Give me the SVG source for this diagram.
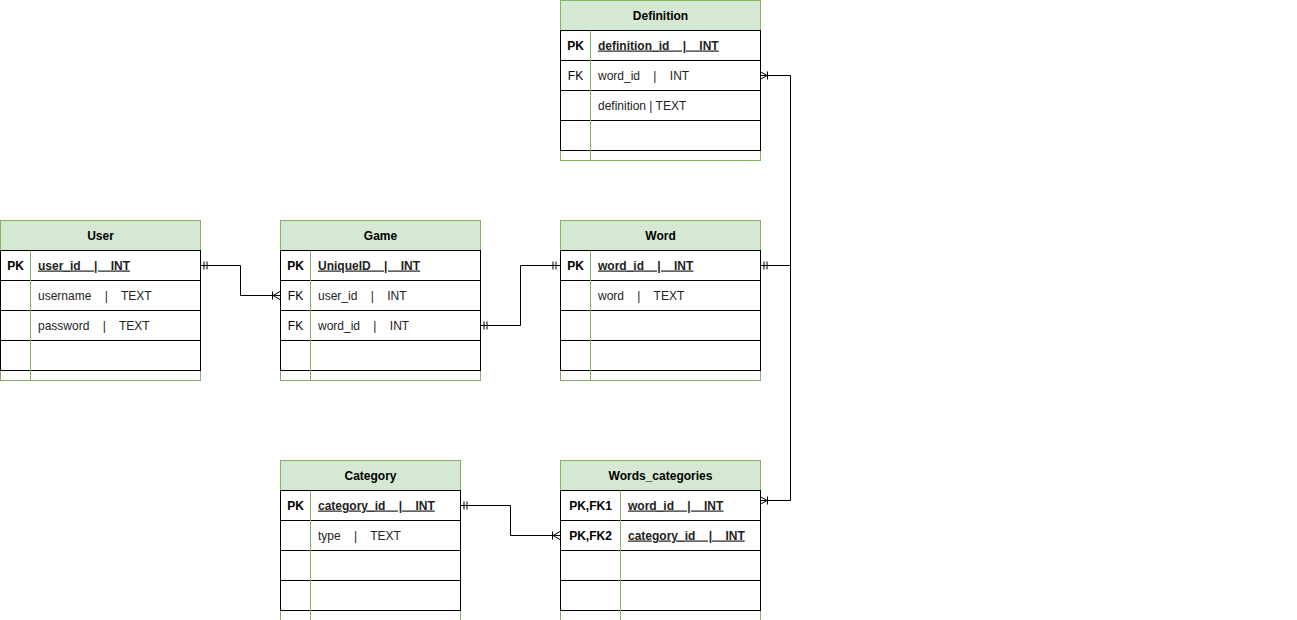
<svg xmlns="http://www.w3.org/2000/svg" width="1297" height="620" viewBox="0 0 1297 620">
<style>
.bg{fill:#ffffff;stroke:#82b366;stroke-width:1}
.hd{fill:#d5e8d4;stroke:#82b366;stroke-width:1}
.row{fill:none;stroke:#000000;stroke-width:1}
.div{stroke:#82b366;stroke-width:1}
text{font-family:"Liberation Sans",Arial,sans-serif;font-size:12px;fill:#000000;white-space:pre}
.h{font-weight:bold;text-anchor:middle}
.k{text-anchor:middle}
.kb{font-weight:bold;text-anchor:middle}
.f{fill:#222222}
.pk{font-weight:bold;text-decoration:underline;fill:#222222}
.c{fill:none;stroke:#000000;stroke-width:1}
</style>
<defs>
<marker id="one" markerUnits="userSpaceOnUse" orient="auto-start-reverse" refX="0" refY="0" markerWidth="20" markerHeight="20" viewBox="-10 -10 20 20" overflow="visible">
<path d="M-4,-4V4M-7,-4V4" fill="none" stroke="#000" stroke-width="1"/>
</marker>
<marker id="many" markerUnits="userSpaceOnUse" orient="auto-start-reverse" refX="0" refY="0" markerWidth="20" markerHeight="20" viewBox="-10 -10 20 20" overflow="visible">
<path d="M0,-4L-7,0L0,4M-7.5,-4V4" fill="none" stroke="#000" stroke-width="1"/>
</marker>
</defs>

<g id="connectors">
<path class="c" d="M200,265.5H240.5V295.5H280" marker-start="url(#one)" marker-end="url(#many)"/>
<path class="c" d="M480,325.5H520.5V265.5H560" marker-start="url(#one)" marker-end="url(#one)"/>
<path class="c" d="M760,265.5H790.5V75.5H760" marker-start="url(#one)" marker-end="url(#many)"/>
<path class="c" d="M760,265.5H790.5V500.5H760" marker-end="url(#many)"/>
<path class="c" d="M460,505.5H510.5V535.5H560" marker-start="url(#one)" marker-end="url(#many)"/>
</g>

<g id="user">
<rect class="bg" x="0.5" y="220.5" width="200" height="160"/>
<rect class="hd" x="0.5" y="220.5" width="200" height="30"/>
<rect class="row" x="0.5" y="250.5" width="200" height="30"/>
<rect class="row" x="0.5" y="280.5" width="200" height="30"/>
<rect class="row" x="0.5" y="310.5" width="200" height="30"/>
<rect class="row" x="0.5" y="340.5" width="200" height="30"/>
<line class="div" x1="30.5" y1="250.5" x2="30.5" y2="380.5"/>
<text class="h" x="100.5" y="239.5">User</text>
<text class="kb" x="15.5" y="269.5">PK</text>
<text class="pk" x="38" y="269.5">user_id    |    INT</text>
<text class="f" x="38" y="299.5">username    |    TEXT</text>
<text class="f" x="38" y="329.5">password    |    TEXT</text>
</g>

<g id="game">
<rect class="bg" x="280.5" y="220.5" width="200" height="160"/>
<rect class="hd" x="280.5" y="220.5" width="200" height="30"/>
<rect class="row" x="280.5" y="250.5" width="200" height="30"/>
<rect class="row" x="280.5" y="280.5" width="200" height="30"/>
<rect class="row" x="280.5" y="310.5" width="200" height="30"/>
<rect class="row" x="280.5" y="340.5" width="200" height="30"/>
<line class="div" x1="310.5" y1="250.5" x2="310.5" y2="380.5"/>
<text class="h" x="380.5" y="239.5">Game</text>
<text class="kb" x="295.5" y="269.5">PK</text>
<text class="pk" x="318" y="269.5">UniqueID    |    INT</text>
<text class="k" x="295.5" y="299.5">FK</text>
<text class="f" x="318" y="299.5">user_id    |    INT</text>
<text class="k" x="295.5" y="329.5">FK</text>
<text class="f" x="318" y="329.5">word_id    |    INT</text>
</g>

<g id="word">
<rect class="bg" x="560.5" y="220.5" width="200" height="160"/>
<rect class="hd" x="560.5" y="220.5" width="200" height="30"/>
<rect class="row" x="560.5" y="250.5" width="200" height="30"/>
<rect class="row" x="560.5" y="280.5" width="200" height="30"/>
<rect class="row" x="560.5" y="310.5" width="200" height="30"/>
<rect class="row" x="560.5" y="340.5" width="200" height="30"/>
<line class="div" x1="590.5" y1="250.5" x2="590.5" y2="380.5"/>
<text class="h" x="660.5" y="239.5">Word</text>
<text class="kb" x="575.5" y="269.5">PK</text>
<text class="pk" x="598" y="269.5">word_id    |    INT</text>
<text class="f" x="598" y="299.5">word    |    TEXT</text>
</g>

<g id="definition">
<rect class="bg" x="560.5" y="0.5" width="200" height="160"/>
<rect class="hd" x="560.5" y="0.5" width="200" height="30"/>
<rect class="row" x="560.5" y="30.5" width="200" height="30"/>
<rect class="row" x="560.5" y="60.5" width="200" height="30"/>
<rect class="row" x="560.5" y="90.5" width="200" height="30"/>
<rect class="row" x="560.5" y="120.5" width="200" height="30"/>
<line class="div" x1="590.5" y1="30.5" x2="590.5" y2="160.5"/>
<text class="h" x="660.5" y="19.5">Definition</text>
<text class="kb" x="575.5" y="49.5">PK</text>
<text class="pk" x="598" y="49.5">definition_id    |    INT</text>
<text class="k" x="575.5" y="79.5">FK</text>
<text class="f" x="598" y="79.5">word_id    |    INT</text>
<text class="f" x="598" y="109.5">definition | TEXT</text>
</g>

<g id="category">
<rect class="bg" x="280.5" y="460.5" width="180" height="160"/>
<rect class="hd" x="280.5" y="460.5" width="180" height="30"/>
<rect class="row" x="280.5" y="490.5" width="180" height="30"/>
<rect class="row" x="280.5" y="520.5" width="180" height="30"/>
<rect class="row" x="280.5" y="550.5" width="180" height="30"/>
<rect class="row" x="280.5" y="580.5" width="180" height="30"/>
<line class="div" x1="310.5" y1="490.5" x2="310.5" y2="620.5"/>
<text class="h" x="370.5" y="479.5">Category</text>
<text class="kb" x="295.5" y="509.5">PK</text>
<text class="pk" x="318" y="509.5">category_id    |    INT</text>
<text class="f" x="318" y="539.5">type    |    TEXT</text>
</g>

<g id="words_categories">
<rect class="bg" x="560.5" y="460.5" width="200" height="160"/>
<rect class="hd" x="560.5" y="460.5" width="200" height="30"/>
<rect class="row" x="560.5" y="490.5" width="200" height="30"/>
<rect class="row" x="560.5" y="520.5" width="200" height="30"/>
<rect class="row" x="560.5" y="550.5" width="200" height="30"/>
<rect class="row" x="560.5" y="580.5" width="200" height="30"/>
<line class="div" x1="620.5" y1="490.5" x2="620.5" y2="620.5"/>
<text class="h" x="660.5" y="479.5">Words_categories</text>
<text class="kb" x="590.5" y="509.5">PK,FK1</text>
<text class="pk" x="628" y="509.5">word_id    |    INT</text>
<text class="kb" x="590.5" y="539.5">PK,FK2</text>
<text class="pk" x="628" y="539.5">category_id    |    INT</text>
</g>
</svg>
